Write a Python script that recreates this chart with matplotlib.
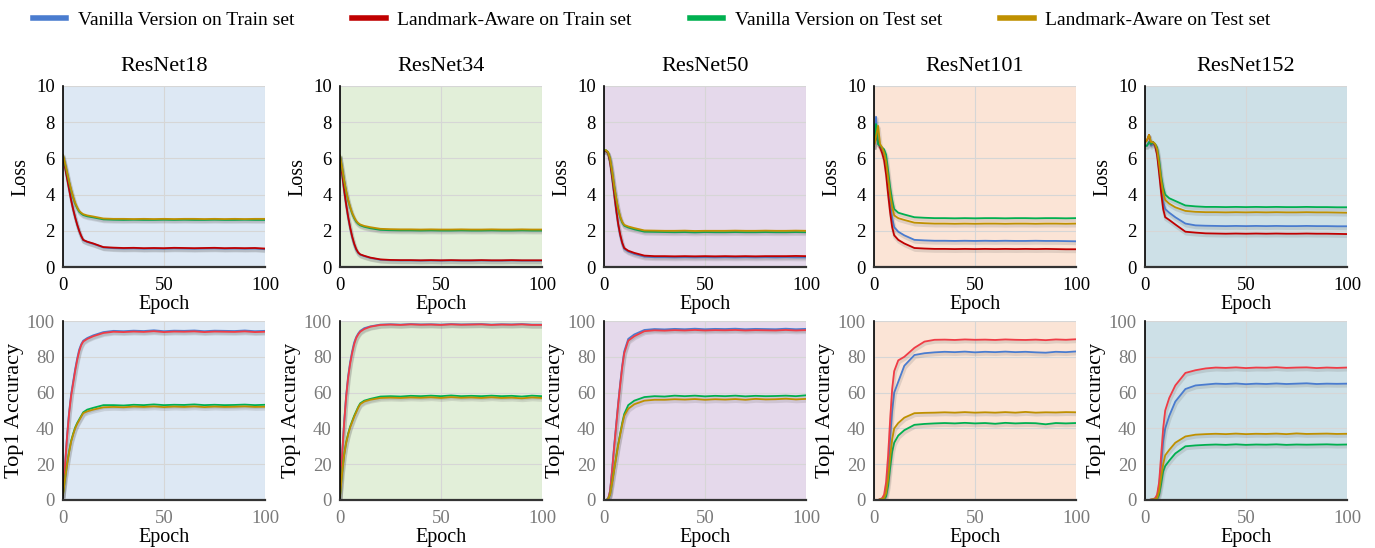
import matplotlib
matplotlib.use("Agg")
import matplotlib.pyplot as plt
import matplotlib.patheffects as pe
from matplotlib.lines import Line2D

plt.rcParams["font.family"] = ["Liberation Serif", "DejaVu Serif"]

EPOCHS = [0, 1, 2, 3, 4, 5, 6, 7, 8, 9, 10, 12, 15, 20, 25, 30, 35, 40, 45, 50,
          55, 60, 65, 70, 75, 80, 85, 90, 95, 100]

MODEL_NAMES = ["ResNet18", "ResNet34", "ResNet50", "ResNet101", "ResNet152"]
SERIES_LABELS = ["Vanilla Version on Train set", "Landmark-Aware on Train set",
                 "Vanilla Version on Test set", "Landmark-Aware on Test set"]

# ResNet18
R18_LOSS_VTRAIN = [6.1, 5.55, 4.95, 4.35, 3.75, 3.2, 2.75, 2.35, 2.0, 1.7, 1.48, 1.38, 1.28, 1.08, 1.04, 1.02, 1.03, 1.01, 1.02, 1.01, 1.03, 1.02, 1.01, 1.02, 1.03, 1.01, 1.02, 1.01, 1.02, 0.98]
R18_LOSS_LTRAIN = [6.05, 5.5, 4.9, 4.3, 3.7, 3.2, 2.75, 2.35, 2.0, 1.72, 1.5, 1.4, 1.3, 1.1, 1.07, 1.05, 1.06, 1.04, 1.05, 1.04, 1.06, 1.05, 1.04, 1.05, 1.06, 1.04, 1.05, 1.04, 1.05, 1.02]
R18_LOSS_VTEST = [6.15, 5.7, 5.2, 4.7, 4.25, 3.85, 3.5, 3.25, 3.05, 2.95, 2.87, 2.8, 2.74, 2.63, 2.61, 2.6, 2.61, 2.6, 2.6, 2.61, 2.6, 2.61, 2.6, 2.6, 2.61, 2.6, 2.6, 2.61, 2.6, 2.6]
R18_LOSS_LTEST = [6.2, 5.75, 5.25, 4.75, 4.3, 3.9, 3.55, 3.3, 3.1, 3.0, 2.92, 2.85, 2.79, 2.68, 2.66, 2.66, 2.65, 2.66, 2.65, 2.66, 2.65, 2.66, 2.66, 2.65, 2.66, 2.65, 2.66, 2.65, 2.66, 2.66]
R18_ACC_VTRAIN = [3, 20, 36, 49, 59, 66, 73, 79, 84, 87, 89, 90.5, 92, 93.8, 94.5, 94.3, 94.6, 94.4, 94.8, 94.3, 94.6, 94.5, 94.7, 94.3, 94.6, 94.5, 94.4, 94.7, 94.3, 94.5]
R18_ACC_LTRAIN = [3, 19, 35, 48, 58, 65, 72, 78, 83, 86.5, 88.5, 90, 91.5, 93.3, 94, 93.8, 94.1, 93.9, 94.3, 93.8, 94.1, 94, 94.2, 93.8, 94.1, 94, 93.9, 94.2, 93.8, 94]
R18_ACC_VTEST = [3, 12, 20, 27, 33, 37, 40.5, 43, 45, 47, 49, 50.5, 51.5, 53, 53, 52.8, 53.2, 53, 53.4, 53, 53.2, 53.1, 53.4, 53, 53.2, 53, 53.1, 53.3, 53, 53.2]
R18_ACC_LTEST = [3, 11.5, 19.5, 26.5, 32.5, 36.5, 40, 42.5, 44.5, 46.5, 48.5, 49.5, 50.5, 51.8, 52, 51.8, 52.2, 52, 52.3, 51.9, 52.2, 52, 52.3, 51.9, 52.2, 52, 52.1, 52.3, 52, 52.1]

# ResNet34
R34_LOSS_VTRAIN = [6.1, 5.15, 4.25, 3.45, 2.75, 2.15, 1.65, 1.25, 0.95, 0.78, 0.68, 0.6, 0.5, 0.4, 0.37, 0.36, 0.36, 0.35, 0.36, 0.35, 0.36, 0.35, 0.35, 0.36, 0.35, 0.35, 0.36, 0.35, 0.35, 0.35]
R34_LOSS_LTRAIN = [6.1, 5.2, 4.3, 3.5, 2.8, 2.2, 1.7, 1.3, 1.0, 0.8, 0.7, 0.62, 0.52, 0.42, 0.39, 0.38, 0.38, 0.37, 0.38, 0.37, 0.38, 0.37, 0.37, 0.38, 0.37, 0.37, 0.38, 0.37, 0.37, 0.37]
R34_LOSS_VTEST = [6.15, 5.5, 4.8, 4.2, 3.7, 3.3, 2.95, 2.7, 2.5, 2.38, 2.3, 2.22, 2.14, 2.05, 2.03, 2.02, 2.02, 2.01, 2.02, 2.01, 2.01, 2.02, 2.01, 2.01, 2.02, 2.01, 2.01, 2.02, 2.01, 2.01]
R34_LOSS_LTEST = [6.15, 5.52, 4.83, 4.24, 3.74, 3.34, 3.0, 2.75, 2.55, 2.43, 2.35, 2.27, 2.2, 2.11, 2.09, 2.08, 2.08, 2.07, 2.08, 2.07, 2.07, 2.08, 2.07, 2.07, 2.08, 2.07, 2.07, 2.08, 2.07, 2.07]
R34_ACC_VTRAIN = [2, 25, 43, 58, 69, 77, 83, 88, 91, 93, 94.5, 96, 97, 98, 98.2, 98, 98.3, 98.1, 98.2, 98, 98.3, 98.1, 98.2, 98.3, 98, 98.2, 98.1, 98.3, 98, 98]
R34_ACC_LTRAIN = [2, 24, 42, 57, 68, 76, 82, 87, 90.5, 92.5, 94, 95.5, 96.8, 97.8, 98, 97.8, 98.1, 97.9, 98, 97.8, 98.1, 97.9, 98, 98.1, 97.8, 98, 97.9, 98.1, 97.8, 97.8]
R34_ACC_VTEST = [2, 15, 25, 32, 37, 41, 44, 47, 49.5, 52, 54, 55.5, 56.5, 57.8, 58, 57.8, 58.2, 58, 58.3, 58, 58.4, 58, 58.2, 58, 58.3, 58, 58.2, 57.8, 58.3, 58]
R34_ACC_LTEST = [2, 14.5, 24.5, 31.5, 36.5, 40.5, 43.5, 46.5, 49, 51.5, 53.5, 55, 56, 57, 57.2, 57, 57.3, 57.1, 57.4, 57, 57.5, 57.1, 57.3, 57, 57.4, 57, 57.2, 56.8, 57.3, 57]

# ResNet50
R50_LOSS_VTRAIN = [6.4, 6.4, 6.3, 5.8, 4.95, 4.05, 3.15, 2.35, 1.75, 1.3, 1.0, 0.85, 0.72, 0.57, 0.54, 0.54, 0.53, 0.54, 0.53, 0.54, 0.53, 0.54, 0.53, 0.54, 0.53, 0.54, 0.53, 0.54, 0.53, 0.53]
R50_LOSS_LTRAIN = [6.4, 6.4, 6.3, 5.8, 5.0, 4.1, 3.2, 2.4, 1.8, 1.35, 1.05, 0.9, 0.78, 0.63, 0.6, 0.6, 0.59, 0.6, 0.59, 0.6, 0.59, 0.6, 0.59, 0.6, 0.59, 0.6, 0.6, 0.6, 0.61, 0.6]
R50_LOSS_VTEST = [6.45, 6.45, 6.35, 6.0, 5.3, 4.5, 3.8, 3.2, 2.75, 2.45, 2.28, 2.18, 2.08, 1.95, 1.94, 1.93, 1.92, 1.93, 1.91, 1.93, 1.92, 1.92, 1.93, 1.92, 1.92, 1.93, 1.92, 1.92, 1.93, 1.92]
R50_LOSS_LTEST = [6.45, 6.45, 6.35, 6.0, 5.32, 4.53, 3.84, 3.25, 2.8, 2.5, 2.33, 2.24, 2.15, 2.02, 2.01, 2.0, 2.0, 2.01, 1.99, 2.0, 2.0, 2.0, 2.01, 2.0, 2.0, 2.01, 2.0, 2.0, 2.01, 2.0]
R50_ACC_VTRAIN = [0, 0, 0.5, 5, 17, 30, 42, 54, 65, 75, 83, 90, 92.5, 95, 95.5, 95.3, 95.6, 95.4, 95.7, 95.4, 95.6, 95.5, 95.7, 95.4, 95.6, 95.5, 95.4, 95.7, 95.4, 95.6]
R50_ACC_LTRAIN = [0, 0, 0.5, 5, 16, 29, 41, 53, 64, 74, 82, 89, 91.5, 94.3, 94.8, 94.6, 94.9, 94.7, 95, 94.7, 94.9, 94.8, 95, 94.7, 94.9, 94.8, 94.7, 95, 94.7, 94.9]
R50_ACC_VTEST = [0, 0, 0.5, 3, 10, 17, 24, 31, 37, 43, 48, 53, 55.5, 57.5, 58, 57.8, 58.3, 58, 58.3, 57.9, 58.2, 58, 58.3, 57.9, 58.2, 58, 58.1, 58.3, 58, 58.5]
R50_ACC_LTEST = [0, 0, 0.5, 3, 9.5, 16.5, 23.5, 30.5, 36.5, 42, 47, 51, 53.5, 55.5, 56, 56, 56.3, 56.1, 56.4, 56, 56.3, 56.1, 56.4, 56, 56.5, 56.2, 56.3, 56.6, 56.2, 56.5]

# ResNet101
R101_LOSS_VTRAIN = [6.7, 8.3, 6.8, 6.7, 6.5, 6.2, 5.5, 4.5, 3.5, 2.7, 2.2, 1.95, 1.75, 1.5, 1.47, 1.45, 1.45, 1.44, 1.45, 1.44, 1.45, 1.44, 1.45, 1.44, 1.44, 1.45, 1.44, 1.44, 1.43, 1.42]
R101_LOSS_LTRAIN = [6.7, 7.3, 6.9, 6.6, 6.3, 5.9, 5.1, 4.0, 3.0, 2.2, 1.75, 1.5, 1.3, 1.05, 1.02, 1.0, 1.0, 0.99, 1.0, 0.99, 1.0, 0.99, 1.0, 0.99, 1.0, 0.99, 1.0, 0.99, 0.98, 0.98]
R101_LOSS_VTEST = [6.7, 7.9, 6.8, 6.7, 6.6, 6.5, 6.2, 5.3, 4.4, 3.7, 3.2, 3.0, 2.9, 2.75, 2.72, 2.7, 2.7, 2.69, 2.7, 2.69, 2.7, 2.7, 2.69, 2.7, 2.7, 2.69, 2.7, 2.7, 2.69, 2.7]
R101_LOSS_LTEST = [6.7, 7.2, 7.8, 6.8, 6.6, 6.3, 5.8, 4.9, 4.0, 3.3, 2.85, 2.7, 2.6, 2.45, 2.42, 2.4, 2.4, 2.39, 2.4, 2.39, 2.4, 2.4, 2.39, 2.4, 2.4, 2.39, 2.4, 2.4, 2.39, 2.4]
R101_ACC_VTRAIN = [0, 0, 0, 0.3, 0.8, 1.5, 6, 17, 35, 50, 60, 66, 75, 81, 82, 82.5, 82.8, 82.6, 82.9, 82.5, 82.8, 82.6, 82.9, 82.6, 82.8, 82.5, 82.3, 82.8, 82.6, 83]
R101_ACC_LTRAIN = [0, 0, 0, 0.5, 1, 3, 10, 25, 45, 62, 72, 78, 80, 85, 88.5, 89.5, 89.6, 89.4, 89.7, 89.5, 89.6, 89.4, 89.7, 89.5, 89.4, 89.6, 89.3, 89.7, 89.5, 89.8]
R101_ACC_VTEST = [0, 0, 0, 0.2, 0.4, 0.5, 2, 8, 18, 27, 32, 36, 39, 42, 42.5, 42.8, 43, 42.8, 43.1, 42.8, 43, 42.6, 43.1, 42.8, 43, 42.9, 42.3, 43, 42.8, 43]
R101_ACC_LTEST = [0, 0, 0, 0.3, 0.5, 1, 4, 12, 24, 34, 40, 43, 46, 48.5, 48.7, 48.8, 49, 48.8, 49.1, 48.8, 49, 48.8, 49.1, 48.8, 49.2, 48.8, 49, 48.9, 49.1, 49]

# ResNet152
R152_LOSS_VTRAIN = [6.7, 6.7, 6.9, 6.7, 6.8, 6.7, 6.3, 5.4, 4.4, 3.6, 3.2, 3.0, 2.75, 2.4, 2.3, 2.28, 2.27, 2.26, 2.27, 2.26, 2.27, 2.26, 2.27, 2.26, 2.26, 2.27, 2.26, 2.26, 2.25, 2.25]
R152_LOSS_LTRAIN = [6.9, 7.0, 7.3, 6.8, 6.9, 6.7, 6.2, 5.2, 4.1, 3.2, 2.75, 2.6, 2.35, 1.95, 1.9, 1.86, 1.85, 1.84, 1.85, 1.84, 1.85, 1.84, 1.85, 1.84, 1.84, 1.85, 1.84, 1.84, 1.83, 1.82]
R152_LOSS_VTEST = [6.7, 6.7, 6.9, 6.8, 6.9, 6.8, 6.6, 5.9, 5.0, 4.4, 4.0, 3.8, 3.65, 3.4, 3.35, 3.32, 3.32, 3.31, 3.32, 3.31, 3.32, 3.31, 3.32, 3.31, 3.31, 3.32, 3.31, 3.31, 3.3, 3.3]
R152_LOSS_LTEST = [6.9, 7.0, 7.3, 6.9, 6.9, 6.8, 6.5, 5.7, 4.8, 4.1, 3.7, 3.5, 3.3, 3.1, 3.05, 3.03, 3.03, 3.02, 3.03, 3.02, 3.03, 3.02, 3.03, 3.02, 3.02, 3.03, 3.02, 3.02, 3.01, 3.0]
R152_ACC_VTRAIN = [0, 0, 0, 0.2, 0.4, 0.8, 2, 8, 20, 33, 40, 47, 55, 62, 64, 64.5, 65, 64.8, 65.1, 64.7, 65, 64.8, 65.1, 64.8, 65, 65.2, 64.8, 65, 64.9, 65]
R152_ACC_LTRAIN = [0, 0, 0, 0.3, 0.5, 1, 3, 10, 25, 40, 50, 57, 64, 71, 72.5, 73.5, 74, 73.8, 74.1, 73.7, 74, 73.9, 74.2, 73.8, 74, 74.1, 73.7, 74, 73.8, 74]
R152_ACC_VTEST = [0, 0, 0, 0.1, 0.2, 0.3, 0.5, 3, 9, 16, 19, 22, 26, 30, 30.5, 30.8, 31, 30.8, 31.1, 30.8, 31, 30.9, 31.1, 30.8, 31, 30.9, 31, 31.1, 30.9, 31]
R152_ACC_LTEST = [0, 0, 0, 0.2, 0.3, 0.5, 1, 5, 13, 20, 25, 28, 32, 35.5, 36.5, 36.8, 37, 36.8, 37.1, 36.8, 37, 36.9, 37.1, 36.8, 37.2, 36.9, 37, 37.1, 36.9, 37]

BACKGROUNDS = ["#dde8f4", "#e2efd9", "#e5d9eb", "#fbe4d6", "#cde0e7"]
LOSS_COLORS = ["#4a7ccf", "#c00000", "#00b050", "#bf9000"]
ACC_COLORS = ["#4a7ccf", "#f03c46", "#00b050", "#bf9000"]

W, H = 1375, 548
COL_LEFT = [63, 340, 604, 874, 1145]
COL_WIDTH = 202


def style_axes(ax, bg, ylim, yticks, tick_color):
    ax.set_facecolor(bg)
    ax.set_xlim(0, 100)
    ax.set_ylim(*ylim)
    ax.set_xticks([0, 50, 100])
    ax.set_yticks(yticks)
    ax.grid(True, color="#d6d6d6", linewidth=0.8)
    ax.set_axisbelow(True)
    for side in ("top", "right"):
        ax.spines[side].set_visible(False)
    ax.spines["left"].set_color("black")
    ax.spines["left"].set_linewidth(1.2)
    ax.spines["bottom"].set_color("#333333")
    ax.spines["bottom"].set_linewidth(1.6)
    ax.tick_params(length=0, labelsize=13.5)
    ax.tick_params(axis="x", pad=7)
    ax.tick_params(axis="y", pad=6)
    ax.tick_params(labelcolor=tick_color)
    ax.set_xlabel("Epoch", fontsize=14.5, labelpad=1)


def draw_lines(ax, series, colors):
    for ys, c in zip(series, colors):
        ax.plot(EPOCHS, ys, color=c, linewidth=1.3, solid_joinstyle="round",
                path_effects=[pe.SimpleLineShadow(offset=(0.6, -1.5), shadow_color="#666666",
                                                  alpha=0.18, linewidth=2.6),
                              pe.Normal()])


fig = plt.figure(figsize=(W / 100, H / 100), dpi=100)

loss_data = [
    [R18_LOSS_VTRAIN, R18_LOSS_LTRAIN, R18_LOSS_VTEST, R18_LOSS_LTEST],
    [R34_LOSS_VTRAIN, R34_LOSS_LTRAIN, R34_LOSS_VTEST, R34_LOSS_LTEST],
    [R50_LOSS_VTRAIN, R50_LOSS_LTRAIN, R50_LOSS_VTEST, R50_LOSS_LTEST],
    [R101_LOSS_VTRAIN, R101_LOSS_LTRAIN, R101_LOSS_VTEST, R101_LOSS_LTEST],
    [R152_LOSS_VTRAIN, R152_LOSS_LTRAIN, R152_LOSS_VTEST, R152_LOSS_LTEST],
]
acc_data = [
    [R18_ACC_VTRAIN, R18_ACC_LTRAIN, R18_ACC_VTEST, R18_ACC_LTEST],
    [R34_ACC_VTRAIN, R34_ACC_LTRAIN, R34_ACC_VTEST, R34_ACC_LTEST],
    [R50_ACC_VTRAIN, R50_ACC_LTRAIN, R50_ACC_VTEST, R50_ACC_LTEST],
    [R101_ACC_VTRAIN, R101_ACC_LTRAIN, R101_ACC_VTEST, R101_ACC_LTEST],
    [R152_ACC_VTRAIN, R152_ACC_LTRAIN, R152_ACC_VTEST, R152_ACC_LTEST],
]

for i, name in enumerate(MODEL_NAMES):
    left = COL_LEFT[i] / W
    width = COL_WIDTH / W

    ax = fig.add_axes([left, 1 - 267 / H, width, 181 / H])
    style_axes(ax, BACKGROUNDS[i], (0, 10), [0, 2, 4, 6, 8, 10], "black")
    draw_lines(ax, loss_data[i], LOSS_COLORS)
    ax.set_ylabel("Loss", fontsize=14.5)
    ax.set_title(name, fontsize=16, pad=11)

    ax = fig.add_axes([left, 1 - 500 / H, width, 179 / H])
    style_axes(ax, BACKGROUNDS[i], (0, 100), [0, 20, 40, 60, 80, 100], "#7a7a7a")
    draw_lines(ax, acc_data[i], ACC_COLORS)
    ax.set_ylabel("Top1 Accuracy", fontsize=16, labelpad=2)

handles = [Line2D([0], [0], color=c, linewidth=4) for c in LOSS_COLORS]
fig.legend(handles, SERIES_LABELS, loc="upper center", bbox_to_anchor=(0.474, 1.012),
           ncol=4, frameon=False, fontsize=14, handlelength=1.7, columnspacing=3.0,
           handletextpad=0.6)

fig.savefig("out.png", dpi=100)
